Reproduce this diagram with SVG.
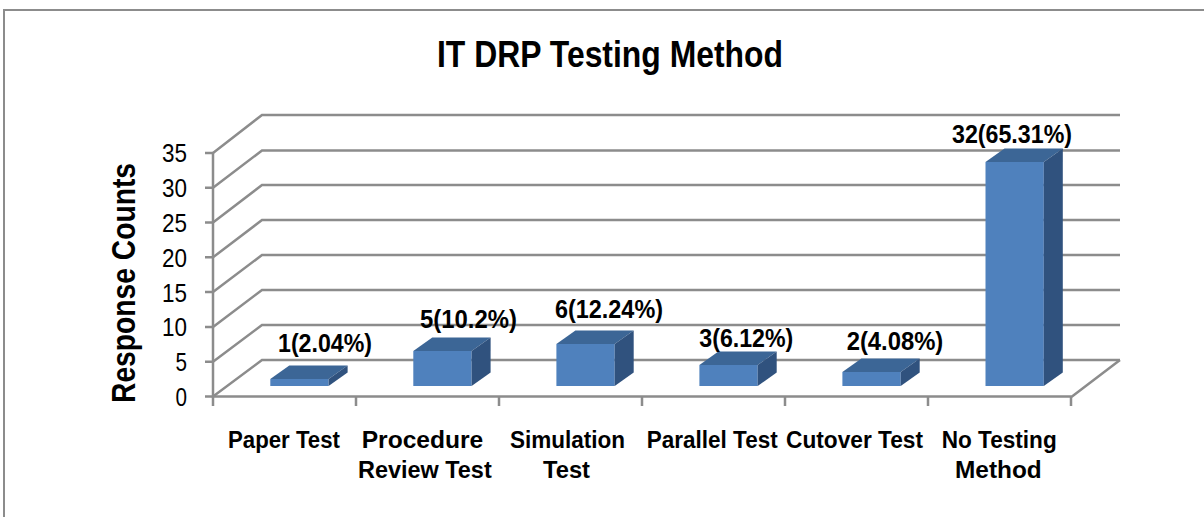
<svg xmlns="http://www.w3.org/2000/svg" width="1204" height="517" viewBox="0 0 1204 517">
<style>
.frame{stroke:#8c8c8c;stroke-width:2;fill:none}
.grid{stroke:#8c8c8c;stroke-width:2.5;fill:none}
.axis{stroke:#8c8c8c;stroke-width:2.5;fill:none}
.front{fill:#4f81bd}
.top{fill:#3c6696}
.side{fill:#30527e}
text{font-family:"Liberation Sans",Arial,sans-serif;fill:#000}
.title{font-size:37px;font-weight:bold}
.ytitle{font-size:33px;font-weight:bold}
.tick{font-size:25px;text-anchor:end}
.cat{font-size:23px;font-weight:bold}
.dl{font-size:26px;font-weight:bold}
</style>
<rect width="1204" height="517" fill="#fff"/>
<path class="frame" d="M4,517 V10 H1204"/>
<text class="title" x="437" y="66.7" textLength="346" lengthAdjust="spacingAndGlyphs">IT DRP Testing Method</text>
<text class="ytitle" transform="translate(134.5,283) rotate(-90)" text-anchor="middle" textLength="240" lengthAdjust="spacingAndGlyphs">Response Counts</text>
<g id="gridlines">
<path class="grid" d="M213,396.5 L262,360 H1120 M213,361.7 L262,325 H1120 M213,326.9 L262,290 H1120 M213,292.1 L262,255 H1120 M213,257.3 L262,220 H1120 M213,222.5 L262,185 H1120 M213,187.7 L262,150.5 H1120 M213,152.9 L262,115 H1120"/>
<path class="axis" d="M213,152.9 V396.5 H1072 L1120,360"/>
<path class="axis" d="M205,152.9 H213 M205,187.7 H213 M205,222.5 H213 M205,257.3 H213 M205,292.1 H213 M205,326.9 H213 M205,361.7 H213 M205,396.5 H213 M213,396.5 V406 M356,396.5 V406 M499,396.5 V406 M642,396.5 V406 M785,396.5 V406 M928,396.5 V406 M1071,396.5 V406"/>
</g>
<g id="ylabels">
<text class="tick" x="187" y="162.4" textLength="25" lengthAdjust="spacingAndGlyphs">35</text>
<text class="tick" x="187" y="197.2" textLength="25" lengthAdjust="spacingAndGlyphs">30</text>
<text class="tick" x="187" y="232" textLength="25" lengthAdjust="spacingAndGlyphs">25</text>
<text class="tick" x="187" y="266.8" textLength="25" lengthAdjust="spacingAndGlyphs">20</text>
<text class="tick" x="187" y="301.6" textLength="25" lengthAdjust="spacingAndGlyphs">15</text>
<text class="tick" x="187" y="336.4" textLength="25" lengthAdjust="spacingAndGlyphs">10</text>
<text class="tick" x="187" y="371.2" textLength="11.5" lengthAdjust="spacingAndGlyphs">5</text>
<text class="tick" x="187" y="406" textLength="11.5" lengthAdjust="spacingAndGlyphs">0</text>
</g>
<g id="bar-paper">
<rect class="front" x="270.3" y="379" width="58.3" height="7"/>
<polygon class="top" points="270.3,379 289.3,365.5 347.6,365.5 328.6,379"/>
<polygon class="side" points="328.6,379 347.6,365.5 347.6,372.5 328.6,386"/>
</g>
<g id="bar-procedure">
<rect class="front" x="413.3" y="351" width="58.3" height="35"/>
<polygon class="top" points="413.3,351 432.3,337.5 490.6,337.5 471.6,351"/>
<polygon class="side" points="471.6,351 490.6,337.5 490.6,372.5 471.6,386"/>
</g>
<g id="bar-simulation">
<rect class="front" x="556.4" y="344" width="58.3" height="42"/>
<polygon class="top" points="556.4,344 575.4,330.5 633.7,330.5 614.7,344"/>
<polygon class="side" points="614.7,344 633.7,330.5 633.7,372.5 614.7,386"/>
</g>
<g id="bar-parallel">
<rect class="front" x="699.4" y="365" width="58.3" height="21"/>
<polygon class="top" points="699.4,365 718.4,351.5 776.7,351.5 757.7,365"/>
<polygon class="side" points="757.7,365 776.7,351.5 776.7,372.5 757.7,386"/>
</g>
<g id="bar-cutover">
<rect class="front" x="842.4" y="372" width="58.3" height="14"/>
<polygon class="top" points="842.4,372 861.4,358.5 919.7,358.5 900.7,372"/>
<polygon class="side" points="900.7,372 919.7,358.5 919.7,372.5 900.7,386"/>
</g>
<g id="bar-notesting">
<rect class="front" x="985.5" y="162" width="58.3" height="224"/>
<polygon class="top" points="985.5,162 1004.5,148.5 1062.8,148.5 1043.8,162"/>
<polygon class="side" points="1043.8,162 1062.8,148.5 1062.8,372.5 1043.8,386"/>
</g>
<g id="datalabels">
<text class="dl" x="278" y="351.7" textLength="94" lengthAdjust="spacingAndGlyphs">1(2.04%)</text>
<text class="dl" x="420" y="328.3" textLength="97" lengthAdjust="spacingAndGlyphs">5(10.2%)</text>
<text class="dl" x="555" y="318.3" textLength="108" lengthAdjust="spacingAndGlyphs">6(12.24%)</text>
<text class="dl" x="699.3" y="346.7" textLength="94" lengthAdjust="spacingAndGlyphs">3(6.12%)</text>
<text class="dl" x="846.7" y="350" textLength="96.6" lengthAdjust="spacingAndGlyphs">2(4.08%)</text>
<text class="dl" x="952" y="143.3" textLength="120" lengthAdjust="spacingAndGlyphs">32(65.31%)</text>
</g>
<g id="categories">
<text class="cat" x="228" y="448.3" textLength="112" lengthAdjust="spacingAndGlyphs">Paper Test</text>
<text class="cat" x="361.7" y="448.3" textLength="121.6" lengthAdjust="spacingAndGlyphs">Procedure</text>
<text class="cat" x="358" y="478.3" textLength="133.7" lengthAdjust="spacingAndGlyphs">Review Test</text>
<text class="cat" x="510" y="448.3" textLength="115" lengthAdjust="spacingAndGlyphs">Simulation</text>
<text class="cat" x="543" y="478.3" textLength="47" lengthAdjust="spacingAndGlyphs">Test</text>
<text class="cat" x="646.7" y="448.3" textLength="131" lengthAdjust="spacingAndGlyphs">Parallel Test</text>
<text class="cat" x="786" y="448.3" textLength="137" lengthAdjust="spacingAndGlyphs">Cutover Test</text>
<text class="cat" x="941.7" y="448.3" textLength="115" lengthAdjust="spacingAndGlyphs">No Testing</text>
<text class="cat" x="955" y="478.3" textLength="86.7" lengthAdjust="spacingAndGlyphs">Method</text>
</g>
</svg>
